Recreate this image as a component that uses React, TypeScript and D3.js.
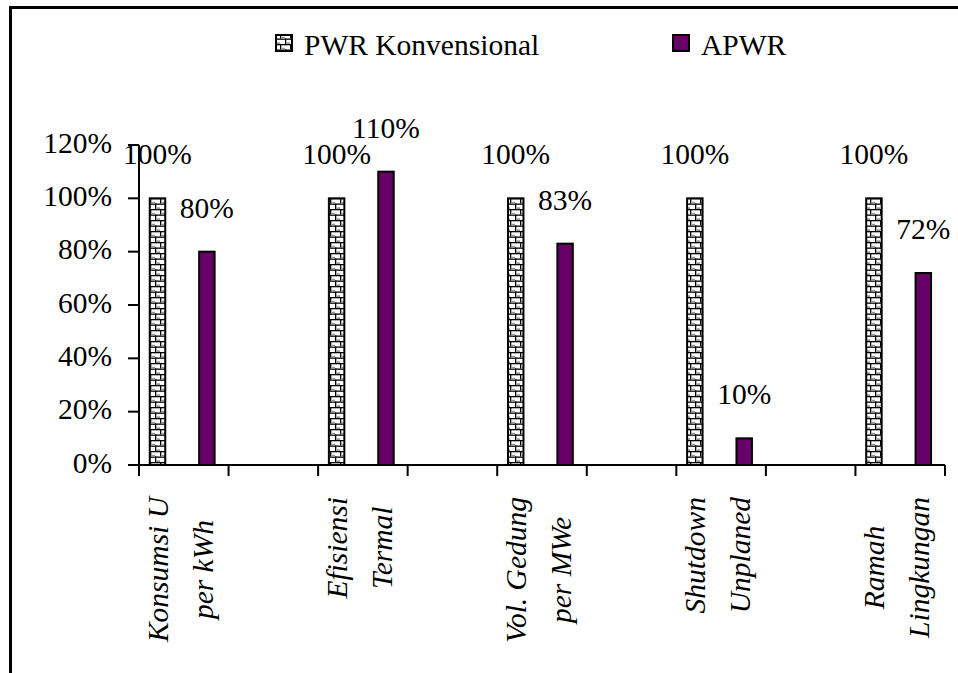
import React, { useEffect, useRef } from "react";
import * as d3 from "d3";

const categories: string[][] = [
  ["Konsumsi U", "per kWh"],
  [],
  ["Efisiensi", "Termal"],
  [],
  ["Vol. Gedung", "per MWe"],
  [],
  ["Shutdown", "Unplaned"],
  [],
  ["Ramah", "Lingkungan"],
];
const seriesNames = ["PWR Konvensional", "APWR"];
const pwrValues: (number | null)[] = [1.0, null, 1.0, null, 1.0, null, 1.0, null, 1.0];
const apwrValues: (number | null)[] = [0.8, null, 1.1, null, 0.83, null, 0.1, null, 0.72];
const yTicks = [0, 0.2, 0.4, 0.6, 0.8, 1.0, 1.2];

const FONT = "'Liberation Serif', 'Times New Roman', serif";
const FS = 29.5;
const PURPLE = "#660066";

export default function App() {
  const ref = useRef<SVGSVGElement>(null);

  useEffect(() => {
    const svg = d3.select(ref.current);
    svg.selectAll("*").remove();

    const defs = svg.append("defs");
    const pat = defs
      .append("pattern")
      .attr("id", "brick")
      .attr("patternUnits", "userSpaceOnUse")
      .attr("width", 10)
      .attr("height", 11);
    pat.append("rect").attr("width", 10).attr("height", 11).attr("fill", "#fff");
    pat.append("rect").attr("x", 0).attr("y", 0).attr("width", 10).attr("height", 1.3).attr("fill", "#000");
    pat.append("rect").attr("x", 0).attr("y", 5.5).attr("width", 10).attr("height", 1.3).attr("fill", "#000");
    pat.append("rect").attr("x", 0).attr("y", 0).attr("width", 1.3).attr("height", 5.5).attr("fill", "#000");
    pat.append("rect").attr("x", 5).attr("y", 5.5).attr("width", 1.3).attr("height", 5.5).attr("fill", "#000");
    pat.append("rect").attr("x", 1.3).attr("y", 3.8).attr("width", 3.7).attr("height", 1.7).attr("fill", "#999");
    pat.append("rect").attr("x", 6.3).attr("y", 9.3).attr("width", 3.7).attr("height", 1.7).attr("fill", "#999");

    // outer border
    svg
      .append("path")
      .attr("d", "M10.5,680 L10.5,7.5 L970,7.5")
      .attr("fill", "none")
      .attr("stroke", "#000")
      .attr("stroke-width", 3);

    const x = d3.scaleBand<number>().domain(d3.range(categories.length)).range([139, 945]).padding(0);
    const inner = d3
      .scaleBand<string>()
      .domain(seriesNames)
      .range([0, x.bandwidth()])
      .paddingInner(0.646)
      .paddingOuter(0.23)
      .align(0.43);
    const y = d3.scaleLinear().domain([0, 1.2]).range([465, 145]);
    const fmt = d3.format(".0%");

    // y axis
    const g = svg.append("g");
    g.append("line")
      .attr("x1", 139).attr("x2", 139)
      .attr("y1", y(1.2)).attr("y2", y(0))
      .attr("stroke", "#000").attr("stroke-width", 2);
    yTicks.forEach((t) => {
      g.append("line")
        .attr("x1", 128).attr("x2", 139)
        .attr("y1", y(t)).attr("y2", y(t))
        .attr("stroke", "#000").attr("stroke-width", 2);
      g.append("text")
        .attr("x", 112).attr("y", y(t) + 7.5)
        .attr("text-anchor", "end")
        .attr("font-family", FONT).attr("font-size", FS)
        .text(fmt(t));
    });

    // bars
    const series = [
      { name: seriesNames[0], values: pwrValues, fill: "url(#brick)" },
      { name: seriesNames[1], values: apwrValues, fill: PURPLE },
    ];
    series.forEach((s) => {
      s.values.forEach((v, i) => {
        if (v == null) return;
        const x0 = (x(i) as number) + (inner(s.name) as number);
        const bw = inner.bandwidth();
        svg.append("rect")
          .attr("x", x0 + 1).attr("y", y(v))
          .attr("width", bw - 2).attr("height", y(0) - y(v))
          .attr("fill", s.fill).attr("stroke", "#000").attr("stroke-width", 2);
        svg.append("text")
          .attr("x", x0 + bw / 2).attr("y", y(v) - 34)
          .attr("text-anchor", "middle")
          .attr("font-family", FONT).attr("font-size", FS)
          .text(fmt(v));
      });
    });

    // x axis
    svg.append("line")
      .attr("x1", 128).attr("x2", 945)
      .attr("y1", y(0)).attr("y2", y(0))
      .attr("stroke", "#000").attr("stroke-width", 2);
    const edges = d3.range(categories.length + 1).map((i) =>
      i < categories.length ? (x(i) as number) : (x(categories.length - 1) as number) + x.bandwidth()
    );
    edges.forEach((ex) => {
      svg.append("line")
        .attr("x1", ex).attr("x2", ex)
        .attr("y1", y(0)).attr("y2", y(0) + 11)
        .attr("stroke", "#000").attr("stroke-width", 2);
    });

    // x labels
    categories.forEach((lines, i) => {
      if (!lines.length) return;
      const cx = (x(i) as number) + x.bandwidth() / 2;
      const lg = svg.append("g");
      const texts = lines.map((l, k) =>
        lg.append("text")
          .attr("font-family", FONT).attr("font-size", FS)
          .attr("font-style", "italic")
          .attr("text-anchor", "middle")
          .attr("y", k === 0 ? -16 : 29)
          .text(l)
      );
      const maxLen = d3.max(texts, (t) => (t.node() as SVGTextElement).getComputedTextLength()) || 0;
      texts.forEach((t) => t.attr("x", -maxLen / 2));
      lg.attr("transform", `translate(${cx},497) rotate(-90)`);
    });

    // legend
    const legendItems = [
      { name: seriesNames[0], fill: "url(#brick)", x: 276 },
      { name: seriesNames[1], fill: PURPLE, x: 673 },
    ];
    legendItems.forEach((it) => {
      svg.append("rect")
        .attr("x", it.x).attr("y", 35)
        .attr("width", 16).attr("height", 16)
        .attr("fill", it.fill).attr("stroke", "#000").attr("stroke-width", 2);
      svg.append("text")
        .attr("x", it.x + 28).attr("y", 55)
        .attr("font-family", FONT).attr("font-size", FS)
        .text(it.name);
    });
  }, []);

  return (
    <svg
      ref={ref}
      width={958}
      height={673}
      style={{ position: "absolute", left: 0, top: 0, display: "block", background: "#fff" }}
    />
  );
}
